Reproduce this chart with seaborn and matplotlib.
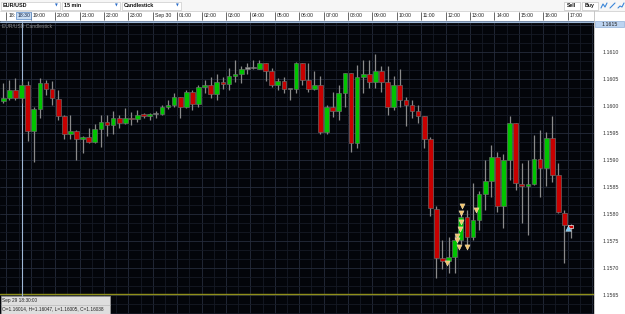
import matplotlib
matplotlib.use("Agg")
import matplotlib.pyplot as plt
import seaborn as sns
import numpy as np
import pandas as pd
from matplotlib.patches import Rectangle
from matplotlib.lines import Line2D

# ---------------- data ----------------
symbol = "EUR/USD"
timeframe = "15 min"
chart_type = "Candlestick"

opens = [1.16010, 1.16015, 1.16029, 1.16014, 1.16038, 1.15953, 1.15995, 1.16043, 1.16031, 1.16013,
         1.15982, 1.15949, 1.15954, 1.15938, 1.15942, 1.15934, 1.15957, 1.15970, 1.15964, 1.15978,
         1.15968, 1.15978, 1.15976, 1.15985, 1.15981, 1.15985, 1.15985, 1.15998, 1.16001, 1.16016,
         1.15999, 1.16026, 1.16003, 1.16036, 1.16039, 1.16023, 1.16044, 1.16040, 1.16055, 1.16059,
         1.16069, 1.16070, 1.16069, 1.16079, 1.16064, 1.16039, 1.16046, 1.16031, 1.16031, 1.16079,
         1.16049, 1.16031, 1.16039, 1.15952, 1.15998, 1.15991, 1.16025, 1.16061, 1.15931, 1.16054,
         1.16059, 1.16045, 1.16065, 1.16045, 1.15999, 1.16039, 1.16012, 1.16002, 1.15991, 1.15981,
         1.15938, 1.15810, 1.15718, 1.15713, 1.15720, 1.15752, 1.15795, 1.15757, 1.15788, 1.15837,
         1.15861, 1.15906, 1.15815, 1.15900, 1.15968, 1.15855, 1.15852, 1.15855, 1.15901, 1.15886,
         1.15940, 1.15872, 1.15802, 1.15780]
highs = [1.16042, 1.16049, 1.16051, 1.16047, 1.16047, 1.15999, 1.16051, 1.16049, 1.16047, 1.16030,
         1.15983, 1.15983, 1.15956, 1.15944, 1.15959, 1.15967, 1.15983, 1.15983, 1.15991, 1.15983,
         1.15996, 1.15989, 1.15993, 1.15987, 1.15987, 1.15991, 1.16002, 1.16012, 1.16025, 1.16017,
         1.16030, 1.16030, 1.16039, 1.16049, 1.16053, 1.16059, 1.16053, 1.16070, 1.16085, 1.16074,
         1.16080, 1.16085, 1.16086, 1.16080, 1.16070, 1.16051, 1.16054, 1.16032, 1.16082, 1.16080,
         1.16079, 1.16065, 1.16056, 1.16002, 1.16026, 1.16039, 1.16062, 1.16062, 1.16076, 1.16086,
         1.16085, 1.16096, 1.16074, 1.16074, 1.16056, 1.16068, 1.16017, 1.16012, 1.16002, 1.15982,
         1.15942, 1.15814, 1.15752, 1.15758, 1.15761, 1.15801, 1.15807, 1.15857, 1.15843, 1.15900,
         1.15928, 1.15915, 1.15911, 1.15981, 1.15969, 1.15894, 1.15900, 1.15946, 1.15956, 1.15952,
         1.15981, 1.15894, 1.15807, 1.15781]
lows = [1.16006, 1.16012, 1.16011, 1.16005, 1.15936, 1.15896, 1.15977, 1.16020, 1.16002, 1.15974,
        1.15938, 1.15938, 1.15900, 1.15913, 1.15931, 1.15931, 1.15925, 1.15944, 1.15949, 1.15959,
        1.15967, 1.15965, 1.15971, 1.15977, 1.15974, 1.15978, 1.15983, 1.15994, 1.15999, 1.15977,
        1.15996, 1.15993, 1.15998, 1.16024, 1.16014, 1.16011, 1.16031, 1.16030, 1.16045, 1.16043,
        1.16059, 1.16068, 1.16068, 1.16046, 1.16036, 1.16030, 1.16024, 1.16012, 1.16024, 1.16039,
        1.16026, 1.16030, 1.15949, 1.15949, 1.15980, 1.15974, 1.15999, 1.15914, 1.15922, 1.16024,
        1.16033, 1.16033, 1.16026, 1.15983, 1.15993, 1.15999, 1.15963, 1.15977, 1.15969, 1.15922,
        1.15796, 1.15681, 1.15699, 1.15690, 1.15690, 1.15745, 1.15739, 1.15752, 1.15770, 1.15807,
        1.15831, 1.15804, 1.15774, 1.15863, 1.15844, 1.15783, 1.15761, 1.15853, 1.15832, 1.15851,
        1.15860, 1.15801, 1.15709, 1.15755]
closes = [1.16015, 1.16029, 1.16014, 1.16038, 1.15953, 1.15994, 1.16043, 1.16031, 1.16014, 1.15982,
          1.15949, 1.15954, 1.15938, 1.15942, 1.15934, 1.15957, 1.15970, 1.15964, 1.15978, 1.15968,
          1.15977, 1.15976, 1.15983, 1.15981, 1.15985, 1.15985, 1.15998, 1.16001, 1.16016, 1.15999,
          1.16026, 1.16003, 1.16036, 1.16039, 1.16023, 1.16044, 1.16040, 1.16056, 1.16059, 1.16068,
          1.16069, 1.16070, 1.16079, 1.16064, 1.16039, 1.16046, 1.16031, 1.16031, 1.16079, 1.16049,
          1.16031, 1.16039, 1.15952, 1.15998, 1.15991, 1.16025, 1.16061, 1.15931, 1.16054, 1.16059,
          1.16045, 1.16065, 1.16045, 1.15999, 1.16039, 1.16011, 1.16002, 1.15991, 1.15981, 1.15938,
          1.15811, 1.15718, 1.15713, 1.15720, 1.15752, 1.15795, 1.15757, 1.15788, 1.15837, 1.15861,
          1.15906, 1.15815, 1.15900, 1.15968, 1.15857, 1.15852, 1.15855, 1.15901, 1.15886, 1.15940,
          1.15872, 1.15803, 1.15780, 1.15775]

# first label is partly hidden behind the crosshair time box in the reference
hour_labels = ["18:", "19:00", "20:00", "21:00", "22:00", "23:00", "Sep 30", "01:00",
               "02:00", "03:00", "04:00", "05:00", "06:00", "07:00", "08:00", "09:00",
               "10:00", "11:00", "12:00", "13:00", "14:00", "15:00", "16:00", "17:00"]
price_ticks = [1.1565, 1.1570, 1.1575, 1.1580, 1.1585, 1.1590, 1.1595, 1.1600, 1.1605, 1.1610]
price_labels = ["1.1565", "1.1570", "1.1575", "1.1580", "1.1585",
                "1.1590", "1.1595", "1.1600", "1.1605", "1.1610"]

trade_pos = [72.8, 74.3, 74.4, 74.75, 74.9, 75.0, 75.0, 75.25, 75.97, 77.5]
trade_price = [1.15710, 1.15760, 1.15752, 1.15739, 1.15772, 1.15786, 1.15801, 1.15814, 1.15738, 1.15807]
position_pos = [92.5]
position_price = [1.15774]

crosshair_index = 3
crosshair_time = "Sep 29 18:30:00"
crosshair_label = "18:30"
crosshair_price = 1.16156
crosshair_price_label = "1.1615"
level_price = 1.15652

# ---------------- style ----------------
sns.set_theme(style="dark")
plt.rcParams["font.family"] = ["Liberation Sans", "DejaVu Sans"]

W, H = 625, 314
fig = plt.figure(figsize=(W / 100, H / 100), dpi=100)
fig.patch.set_facecolor("#ffffff")

PLOT_TOP = 21.0
PLOT_RIGHT = 594.0
ax = fig.add_axes([0, 0, PLOT_RIGHT / W, (H - PLOT_TOP) / H])
BG = "#03050a"
ax.set_facecolor(BG)

n = len(opens)
xs = np.arange(n)
x0_px, step_px = 3.3, 6.1
ax.set_xlim(-x0_px / step_px, (PLOT_RIGHT - x0_px) / step_px)
ppx = 1 / 54000.0
ymax = 1.1610 + (52 - PLOT_TOP) * ppx
ymin = 1.1610 - (H - 52) * ppx
ax.set_ylim(ymin, ymax)

# grid
for k in range(0, 60):
    v = 0.5 + 2 * k
    major = (k % 2 == 0)
    ax.axvline(v, color="#252c3c" if major else "#151a25", lw=0.6, zorder=0)
grid_step = 0.0005 / 3
for j in range(-3, 40):
    p = 1.1610 - j * grid_step
    major = (j % 3 == 0)
    ax.axhline(p, color="#252c3c" if major else "#151a25", lw=0.6, zorder=0)

# level line and crosshair
ax.axhline(level_price, color="#8f8f1a", lw=1.0, zorder=1)
ax.axvline(crosshair_index, color="#9fb8d6", lw=0.8, zorder=1)
ax.axhline(crosshair_price, color="#9fb8d6", lw=0.8, zorder=1)

# candles
o = np.array(opens); c = np.array(closes); hi = np.array(highs); lo = np.array(lows)
colors = np.where(c > o, "#00c400", np.where(c < o, "#c80000", "#9a9a9a"))
bottom = np.minimum(o, c)
height = np.maximum(np.abs(c - o), 1.3 * ppx)
edges = ["#6f6f6f"] * n
edges[-1] = "#ffffff"
ax.vlines(xs, lo, hi, color="#8a8a8a", lw=0.9, zorder=2)
ax.bar(xs, height, bottom=bottom, width=0.78, color=colors, edgecolor=edges,
       linewidth=0.45, zorder=3)

# trade markers via seaborn
trades = pd.DataFrame({"pos": trade_pos, "price": trade_price})
sns.scatterplot(data=trades, x="pos", y="price", marker="v", s=14, color="#f2c46d",
                edgecolor="#fff0c8", linewidth=0.3, ax=ax, zorder=5, legend=False)
posdf = pd.DataFrame({"pos": position_pos, "price": position_price})
sns.scatterplot(data=posdf, x="pos", y="price", marker="^", s=16, color="#7cc8f0",
                edgecolor="#d8f0ff", linewidth=0.3, ax=ax, zorder=5, legend=False)

ax.set_xlabel(""); ax.set_ylabel("")
ax.set_xticks([])
ax.yaxis.tick_right()
ax.set_yticks(price_ticks)
ax.set_yticklabels(price_labels, fontsize=3.8, color="#303030")
ax.tick_params(axis="y", length=0, pad=6.5)
for s in ax.spines.values():
    s.set_visible(False)

ax.text(2 / PLOT_RIGHT, 1 - 2.5 / (H - PLOT_TOP), f"{symbol} {chart_type}", transform=ax.transAxes,
        fontsize=3.6, color="#8c8c8c", ha="left", va="top")

# ---------------- time strip ----------------
axt = fig.add_axes([0, (H - 20.5) / H, PLOT_RIGHT / W, 10 / H])
axt.set_xlim(ax.get_xlim())
axt.set_ylim(0, 1)
axt.set_facecolor("#ffffff")
axt.set_xticks([]); axt.set_yticks([])
for s in axt.spines.values():
    s.set_visible(False)
hour_pos = [0.5 + 4 * k for k in range(len(hour_labels))]
axt.vlines(hour_pos + [(PLOT_RIGHT - x0_px) / step_px - 0.05], 0.1, 0.9, color="#505050", lw=0.6)
for hp, lab in zip(hour_pos, hour_labels):
    axt.text(hp + 0.3, 0.48, lab, fontsize=3.7, color="#202020", ha="left", va="center")
axt.text(crosshair_index + 0.35, 0.48, crosshair_label, fontsize=3.7, color="#102040",
         ha="center", va="center",
         bbox=dict(boxstyle="square,pad=0.25", facecolor="#c9ddf3", edgecolor="#5b8cc9", lw=0.5))

# ---------------- figure chrome ----------------
def fig_rect(x0, y0, x1, y1, **kw):
    fig.add_artist(Rectangle((x0 / W, 1 - y1 / H), (x1 - x0) / W, (y1 - y0) / H,
                             transform=fig.transFigure, **kw))

def fig_text(x, y, s, **kw):
    fig.text(x / W, 1 - y / H, s, **kw)

def fig_line(xa, ya, **kw):
    fig.add_artist(Line2D([v / W for v in xa], [1 - v / H for v in ya],
                          transform=fig.transFigure, **kw))

fig_rect(0, 0, W, 10.5, facecolor="#f6f6f6", edgecolor="none", zorder=1)
fig_line([0, W], [10.5, 10.5], color="#c8c8c8", lw=0.5)
fig_line([0, PLOT_RIGHT], [20.5, 20.5], color="#8fa8c8", lw=0.6)
# dropdowns
for (xa, xb, label) in [(1, 60, symbol), (62, 120, timeframe), (122, 181, chart_type)]:
    fig_rect(xa, 1.5, xb, 9.5, facecolor="#ffffff", edgecolor="#c0c0c0", lw=0.4, zorder=2)
    fig_text(xa + 2, 5.6, label, fontsize=3.9, color="#101010", fontweight="bold",
             ha="left", va="center", zorder=3)
    fig_text(xb - 3.5, 5.8, "\u25bc", fontsize=2.6, color="#2a6cc8", ha="center",
             va="center", family="DejaVu Sans", zorder=3)
# buttons
for (xa, xb, label) in [(564, 580, "Sell"), (582, 598, "Buy")]:
    fig_rect(xa, 1.5, xb, 9.5, facecolor="#ffffff", edgecolor="#b8b8b8", lw=0.4, zorder=2)
    fig_text((xa + xb) / 2, 5.6, label, fontsize=3.7, color="#101010", fontweight="bold",
             ha="center", va="center", zorder=3)
fig_line([601, 603, 605, 607], [8, 4, 7, 3], color="#3a86d8", lw=0.8)
fig_line([610, 615], [8, 3], color="#3a86d8", lw=0.8)
fig_line([618, 620, 622, 624], [8, 6, 7, 3], color="#3a86d8", lw=0.8)

# price axis separator and crosshair price label
fig_line([PLOT_RIGHT, PLOT_RIGHT], [10.5, H], color="#b0b0b0", lw=0.5)
fig_rect(595, 21.5, 624, 27, facecolor="#bcd3f0", edgecolor="#7fa2d0", lw=0.4, zorder=2)
fig_text(609.5, 24.3, crosshair_price_label, fontsize=3.8, color="#202020", ha="center",
         va="center", zorder=3)

# tooltip
fig_rect(0.5, 296, 110, 313.5, facecolor="#dedede", edgecolor="#9a9a9a", lw=0.5, zorder=2)
fig_line([0.5, 110], [304.5, 304.5], color="#b0b0b0", lw=0.4)
fig_text(2, 300.3, crosshair_time, fontsize=3.4, color="#202020", ha="left", va="center", zorder=3)
i = crosshair_index
fig_text(2, 309, f"O={opens[i]:.5f}, H={highs[i]:.5f}, L={lows[i]:.5f}, C={closes[i]:.5f}",
         fontsize=3.4, color="#202020", ha="left", va="center", zorder=3)

fig.savefig("out.png", dpi=100, facecolor=fig.get_facecolor())
